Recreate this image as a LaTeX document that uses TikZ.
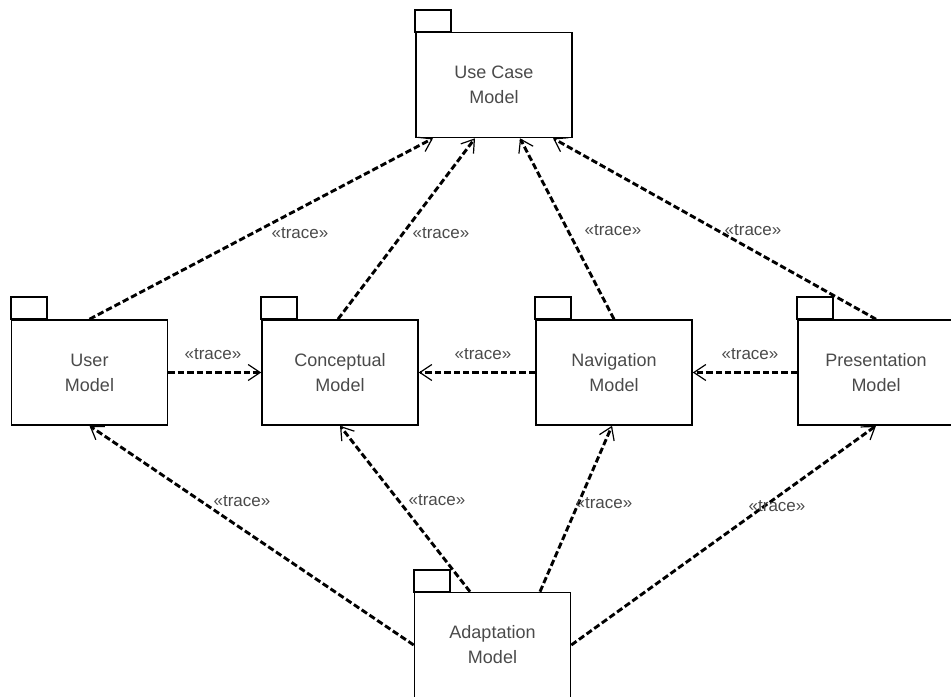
\documentclass[tikz,border=0pt]{standalone}
\usepackage{fontspec}
\setmainfont{Liberation Sans}
\usepackage{tikz}
\usetikzlibrary{arrows.meta,calc}

\definecolor{txtgray}{HTML}{4A4A4A}

\begin{document}
\begin{tikzpicture}[x=0.5pt, y=-0.5pt,
    pkg/.style={draw, line width=0.8pt, minimum width=78pt, minimum height=52.5pt,
      inner sep=0pt, align=center, text=txtgray, font=\fontsize{9}{12.5}\selectfont},
    tracelbl/.style={text=txtgray, inner sep=1pt, font=\fontsize{8.5}{10}\selectfont},
    trace/.style={line width=1.45pt, dash pattern=on 3.2pt off 1.5pt,
      -{Straight Barb[length=6pt, width=8pt, line width=0.6pt]}}]
    \clip (0,0) rectangle (951,696);

    % packages
    \node[pkg] (uc) at (494,85) {Use Case\\Model};
    \node[pkg] (user) at (89.5,372.5) {User\\Model};
    \node[pkg] (concept) at (340,372.5) {Conceptual\\Model};
    \node[pkg] (nav) at (614,372.5) {Navigation\\Model};
    \node[pkg] (pres) at (876,372.5) {Presentation\\Model};
    \node[pkg] (adapt) at (492.5,645) {Adaptation\\Model};
    \foreach \p in {uc,user,concept,nav,pres,adapt}
      \draw[line width=0.8pt] (\p.north west) rectangle ++(36,-22);

    % trace dependencies
    \draw[trace] (user.north) -- ($(uc.south)+(-61,0)$);
    \draw[trace] ($(concept.north)+(-2,0)$) -- ($(uc.south)+(-19,0)$);
    \draw[trace] (nav.north) -- ($(uc.south)+(26,0)$);
    \draw[trace] (pres.north) -- ($(uc.south)+(59,0)$);
    \draw[trace] (user.east) -- (concept.west);
    \draw[trace] (nav.west) -- (concept.east);
    \draw[trace] (pres.west) -- (nav.east);
    \draw[trace] (adapt.west) -- (user.south);
    \draw[trace] ($(adapt.north)+(-22.5,0)$) -- (concept.south);
    \draw[trace] ($(adapt.north)+(47.5,0)$) -- ($(nav.south)+(-2,0)$);
    \draw[trace] (adapt.east) -- (pres.south);

    \node[tracelbl] (t1) at (300,233) {«trace»};
    \node[tracelbl] (t2) at (441,233) {«trace»};
    \node[tracelbl] (t3) at (613,230) {«trace»};
    \node[tracelbl] (t4) at (753,230) {«trace»};
    \node[tracelbl] (t5) at (213,354) {«trace»};
    \node[tracelbl] (t6) at (483,354) {«trace»};
    \node[tracelbl] (t7) at (750,354) {«trace»};
    \node[tracelbl] (t8) at (242,501) {«trace»};
    \node[tracelbl] (t9) at (437,500) {«trace»};
    \node[tracelbl] (t10) at (604,503) {«trace»};
    \node[tracelbl] (t11) at (777,506) {«trace»};
\end{tikzpicture}
\end{document}
